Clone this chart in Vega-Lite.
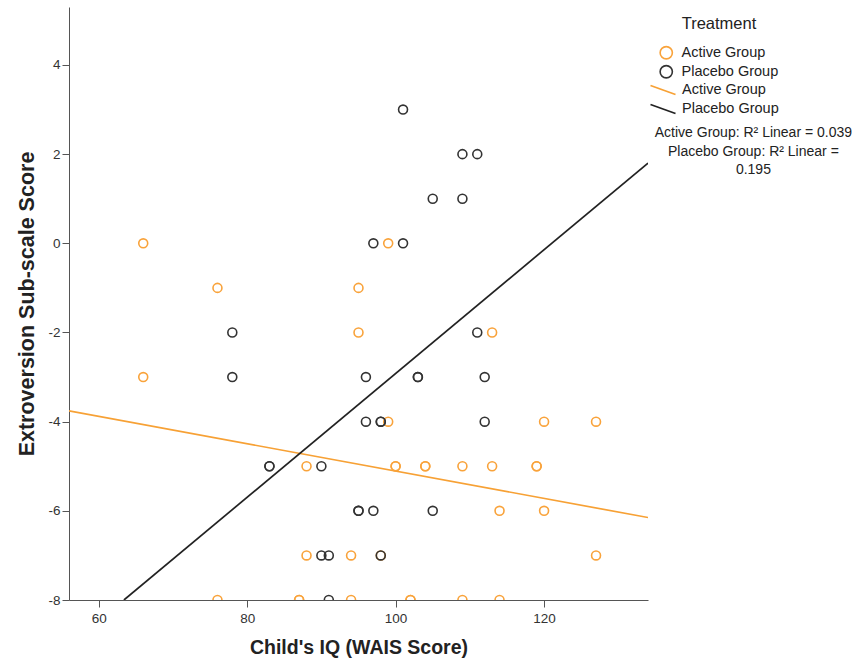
{
  "$schema": "https://vega.github.io/schema/vega-lite/v6.json",
  "width": 579,
  "height": 593,
  "autosize": {"type": "none"},
  "padding": {"left": 69, "top": 7, "right": 213, "bottom": 66},
  "background": "white",
  "config": {
    "view": {"stroke": null},
    "font": "Liberation Sans",
    "axis": {
      "grid": false,
      "domainColor": "#555555",
      "tickColor": "#555555",
      "labelColor": "#333333",
      "labelFont": "Liberation Sans",
      "labelFontSize": 13.5,
      "titleFont": "Liberation Sans",
      "titleFontWeight": "bold",
      "titleColor": "#222222",
      "tickSize": 7
    },
    "legend": {
      "labelFont": "Liberation Sans",
      "labelFontSize": 14.5,
      "labelColor": "#222222",
      "titleFont": "Liberation Sans",
      "titleFontSize": 16.5,
      "titleFontWeight": "normal",
      "titleColor": "#222222"
    }
  },
  "datasets": {
    "points": [
      {"IQ": 66, "Extroversion": 0, "Treatment": "Active Group"},
      {"IQ": 76, "Extroversion": -1, "Treatment": "Active Group"},
      {"IQ": 66, "Extroversion": -3, "Treatment": "Active Group"},
      {"IQ": 99, "Extroversion": 0, "Treatment": "Active Group"},
      {"IQ": 95, "Extroversion": -1, "Treatment": "Active Group"},
      {"IQ": 95, "Extroversion": -2, "Treatment": "Active Group"},
      {"IQ": 113, "Extroversion": -2, "Treatment": "Active Group"},
      {"IQ": 99, "Extroversion": -4, "Treatment": "Active Group"},
      {"IQ": 120, "Extroversion": -4, "Treatment": "Active Group"},
      {"IQ": 127, "Extroversion": -4, "Treatment": "Active Group"},
      {"IQ": 88, "Extroversion": -5, "Treatment": "Active Group"},
      {"IQ": 100, "Extroversion": -5, "Treatment": "Active Group"},
      {"IQ": 100, "Extroversion": -5, "Treatment": "Active Group"},
      {"IQ": 104, "Extroversion": -5, "Treatment": "Active Group"},
      {"IQ": 104, "Extroversion": -5, "Treatment": "Active Group"},
      {"IQ": 109, "Extroversion": -5, "Treatment": "Active Group"},
      {"IQ": 113, "Extroversion": -5, "Treatment": "Active Group"},
      {"IQ": 119, "Extroversion": -5, "Treatment": "Active Group"},
      {"IQ": 119, "Extroversion": -5, "Treatment": "Active Group"},
      {"IQ": 114, "Extroversion": -6, "Treatment": "Active Group"},
      {"IQ": 120, "Extroversion": -6, "Treatment": "Active Group"},
      {"IQ": 88, "Extroversion": -7, "Treatment": "Active Group"},
      {"IQ": 94, "Extroversion": -7, "Treatment": "Active Group"},
      {"IQ": 98, "Extroversion": -7, "Treatment": "Active Group"},
      {"IQ": 127, "Extroversion": -7, "Treatment": "Active Group"},
      {"IQ": 76, "Extroversion": -8, "Treatment": "Active Group"},
      {"IQ": 87, "Extroversion": -8, "Treatment": "Active Group"},
      {"IQ": 87, "Extroversion": -8, "Treatment": "Active Group"},
      {"IQ": 94, "Extroversion": -8, "Treatment": "Active Group"},
      {"IQ": 102, "Extroversion": -8, "Treatment": "Active Group"},
      {"IQ": 102, "Extroversion": -8, "Treatment": "Active Group"},
      {"IQ": 109, "Extroversion": -8, "Treatment": "Active Group"},
      {"IQ": 114, "Extroversion": -8, "Treatment": "Active Group"},
      {"IQ": 101, "Extroversion": 3, "Treatment": "Placebo Group"},
      {"IQ": 109, "Extroversion": 2, "Treatment": "Placebo Group"},
      {"IQ": 111, "Extroversion": 2, "Treatment": "Placebo Group"},
      {"IQ": 105, "Extroversion": 1, "Treatment": "Placebo Group"},
      {"IQ": 109, "Extroversion": 1, "Treatment": "Placebo Group"},
      {"IQ": 97, "Extroversion": 0, "Treatment": "Placebo Group"},
      {"IQ": 101, "Extroversion": 0, "Treatment": "Placebo Group"},
      {"IQ": 78, "Extroversion": -2, "Treatment": "Placebo Group"},
      {"IQ": 111, "Extroversion": -2, "Treatment": "Placebo Group"},
      {"IQ": 78, "Extroversion": -3, "Treatment": "Placebo Group"},
      {"IQ": 96, "Extroversion": -3, "Treatment": "Placebo Group"},
      {"IQ": 103, "Extroversion": -3, "Treatment": "Placebo Group"},
      {"IQ": 103, "Extroversion": -3, "Treatment": "Placebo Group"},
      {"IQ": 112, "Extroversion": -3, "Treatment": "Placebo Group"},
      {"IQ": 96, "Extroversion": -4, "Treatment": "Placebo Group"},
      {"IQ": 98, "Extroversion": -4, "Treatment": "Placebo Group"},
      {"IQ": 98, "Extroversion": -4, "Treatment": "Placebo Group"},
      {"IQ": 112, "Extroversion": -4, "Treatment": "Placebo Group"},
      {"IQ": 83, "Extroversion": -5, "Treatment": "Placebo Group"},
      {"IQ": 83, "Extroversion": -5, "Treatment": "Placebo Group"},
      {"IQ": 90, "Extroversion": -5, "Treatment": "Placebo Group"},
      {"IQ": 95, "Extroversion": -6, "Treatment": "Placebo Group"},
      {"IQ": 95, "Extroversion": -6, "Treatment": "Placebo Group"},
      {"IQ": 97, "Extroversion": -6, "Treatment": "Placebo Group"},
      {"IQ": 105, "Extroversion": -6, "Treatment": "Placebo Group"},
      {"IQ": 90, "Extroversion": -7, "Treatment": "Placebo Group"},
      {"IQ": 91, "Extroversion": -7, "Treatment": "Placebo Group"},
      {"IQ": 98, "Extroversion": -7, "Treatment": "Placebo Group"},
      {"IQ": 91, "Extroversion": -8, "Treatment": "Placebo Group"}
    ],
    "fits": [
      {"IQ": 56, "Extroversion": -3.76, "Fit": "Active Group"},
      {"IQ": 134, "Extroversion": -6.15, "Fit": "Active Group"},
      {"IQ": 63.4, "Extroversion": -8, "Fit": "Placebo Group"},
      {"IQ": 134, "Extroversion": 1.8, "Fit": "Placebo Group"}
    ],
    "notes": [
      {"IQ": 148.2, "Extroversion": 2.47, "label": "Active Group: R² Linear = 0.039"},
      {"IQ": 148.2, "Extroversion": 2.04, "label": "Placebo Group: R² Linear ="},
      {"IQ": 148.2, "Extroversion": 1.64, "label": "0.195"}
    ]
  },
  "resolve": {"scale": {"color": "independent"}, "legend": {"color": "independent"}},
  "layer": [
    {
      "data": {"name": "fits"},
      "mark": {"type": "line", "strokeWidth": 1.7, "clip": true},
      "encoding": {
        "x": {"field": "IQ", "type": "quantitative", "scale": {"domain": [56, 134], "nice": false, "zero": false},
          "axis": {"values": [60, 80, 100, 120], "title": "Child's IQ (WAIS Score)", "titleFontSize": 19.5, "labelPadding": 4, "titlePadding": 14}},
        "y": {"field": "Extroversion", "type": "quantitative", "scale": {"domain": [-8, 5.3], "nice": false, "zero": false},
          "axis": {"values": [-8, -6, -4, -2, 0, 2, 4], "labelExpr": "replace(datum.label, '\u2212', '-')", "title": "Extroversion Sub-scale Score", "titleFontSize": 21.5, "labelPadding": 2, "titlePadding": 9}},
        "color": {"field": "Fit", "type": "nominal",
          "scale": {"domain": ["Active Group", "Placebo Group"], "range": ["#F7A135", "#222222"]},
          "legend": {"title": null, "orient": "none", "legendX": 583, "legendY": 72,
            "symbolType": "M-1.25,-0.45L1.25,0.45", "symbolSize": 400, "symbolStrokeWidth": 1.7, "labelOffset": 8, "rowPadding": -2}}
      }
    },
    {
      "data": {"name": "points"},
      "mark": {"type": "point", "shape": "circle", "filled": false, "size": 80, "strokeWidth": 1.6, "opacity": 1, "clip": true},
      "encoding": {
        "x": {"field": "IQ", "type": "quantitative"},
        "y": {"field": "Extroversion", "type": "quantitative"},
        "color": {"field": "Treatment", "type": "nominal",
          "scale": {"domain": ["Active Group", "Placebo Group"], "range": ["#F9A33B", "#333333"]},
          "legend": {"title": "Treatment", "orient": "none", "legendX": 590, "legendY": 9, "titleAnchor": "middle",
            "symbolType": "circle", "symbolSize": 150, "symbolStrokeWidth": 1.6, "symbolOpacity": 1, "labelOffset": 8, "titlePadding": 13, "rowPadding": -1}}
      }
    },
    {
      "data": {"name": "notes"},
      "mark": {"type": "text", "align": "center", "baseline": "middle", "fontSize": 14, "color": "#222222", "clip": false},
      "encoding": {
        "x": {"field": "IQ", "type": "quantitative"},
        "y": {"field": "Extroversion", "type": "quantitative"},
        "text": {"field": "label"}
      }
    }
  ]
}
